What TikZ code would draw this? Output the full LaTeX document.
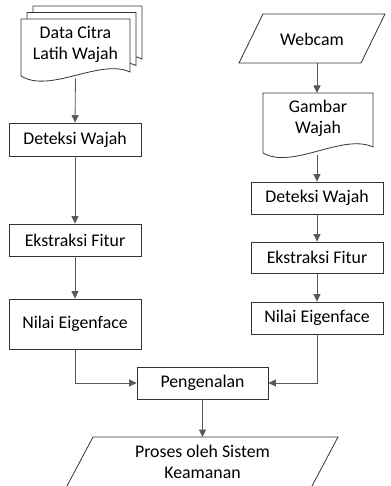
\documentclass[tikz,border=0pt]{standalone}
\usepackage{fontspec}
\setmainfont{Carlito}
\usetikzlibrary{arrows.meta}
\begin{document}
\begin{tikzpicture}[x=1pt,y=-1pt,
  every node/.style={font=\fontsize{17.8}{21}\selectfont, text=black},
  box/.style={draw=black!80, line width=0.8pt, rectangle, inner sep=0pt, minimum width=132pt, minimum height=33pt, align=center},
  shapeline/.style={draw=black!80, line width=0.8pt, fill=white},
  txt/.style={inner sep=0pt, align=center},
  conn/.style={draw=black!65, line width=0.8pt, -{Triangle[width=7pt,length=7.5pt]}}]
\useasboundingbox (0,0) rectangle (390,486);

% --- multi-document (left top)
\foreach \dx/\dy in {12/-13, 6/-6.5, 0/0}{
  \path[shapeline] (21+\dx,19+\dy) -- (130+\dx,19+\dy) -- (130+\dx,72+\dy)
    .. controls (100+\dx,58+\dy) and (50+\dx,94+\dy) .. (21+\dx,76+\dy) -- cycle;
}
\node[txt] (data) at (75.5,44.5) {Data Citra\\Latih Wajah};
\coordinate (dataout) at (75.5,78.5);

% --- left column
\node[box] (det1) at (75,139.5) {Deteksi Wajah};
\node[box, minimum height=32pt] (eks1) at (75,240) {Ekstraksi Fitur};
\node[box, minimum height=50pt] (nil1) at (75,324) {Nilai Eigenface};

% --- right column
\path[shapeline] (263,14) -- (385,14) -- (361,63) -- (239,63) -- cycle;
\node[txt] (webcam) at (312,39) {Webcam};
\coordinate (webout) at (317,63);

\path[shapeline] (263,93) -- (373,93) -- (373,147)
  .. controls (343,133) and (292,170) .. (263,153) -- cycle;
\node[txt] (gambar) at (318,118) {Gambar\\Wajah};
\coordinate (gamin) at (317,93);
\coordinate (gamout) at (317,155);

\node[box, minimum height=32pt] (det2) at (317,198) {Deteksi Wajah};
\node[box, minimum height=31pt] (eks2) at (317,257.5) {Ekstraksi Fitur};
\node[box, minimum height=32pt] (nil2) at (317,318) {Nilai Eigenface};

% --- bottom
\node[box, minimum width=131pt, minimum height=32pt] (pen) at (202.5,383) {Pengenalan};
\path[draw=black!80, line width=0.8pt] (67,486) -- (93,437) -- (338,437) -- (312,486);
\node[txt] (proses) at (202.5,462) {Proses oleh Sistem\\Keamanan};
\coordinate (prosin) at (202.5,437);

% --- connectors
\draw[conn] (dataout) -- (det1.north);
\draw[conn] (det1) -- (eks1);
\draw[conn] (eks1) -- (nil1);
\draw[conn] (webout) -- (gamin);
\draw[conn] (gamout) -- (det2.north);
\draw[conn] (det2) -- (eks2);
\draw[conn] (eks2) -- (nil2);
\draw[conn] (nil1.south) |- (pen.west);
\draw[conn] (nil2.south) |- (pen.east);
\draw[conn] (pen.south) -- (prosin);
\end{tikzpicture}
\end{document}
